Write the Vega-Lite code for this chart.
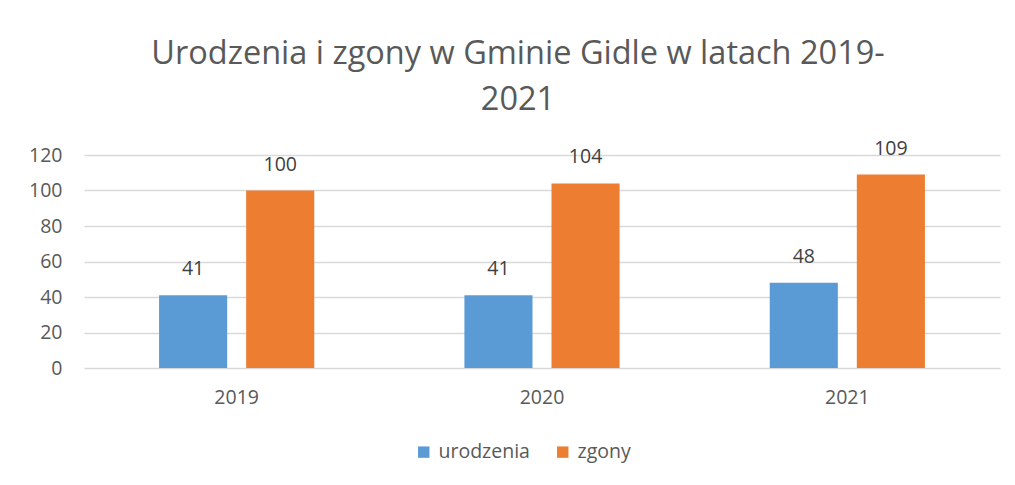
{
  "$schema": "https://vega.github.io/schema/vega-lite/v6.json",
  "autosize": "none",
  "width": 916,
  "height": 213,
  "padding": {"left": 84, "top": 155, "right": 15, "bottom": 117},
  "background": "white",
  "config": {
    "font": "Open Sans",
    "view": {"stroke": null},
    "axis": {"labelColor": "#595959", "labelFontSize": 19.5, "ticks": false, "labelFont": "Open Sans"},
    "legend": {"labelColor": "#595959", "labelFontSize": 19.5}
  },
  "title": {
    "text": ["Urodzenia i zgony w Gminie Gidle w latach 2019-", "2021"],
    "fontSize": 32.5,
    "fontWeight": "normal",
    "color": "#595959",
    "lineHeight": 46,
    "offset": 22,
    "dx": -24,
    "anchor": "middle"
  },
  "data": {
    "values": [
      {"rok": "2019", "seria": "urodzenia", "wartosc": 41},
      {"rok": "2019", "seria": "zgony", "wartosc": 100},
      {"rok": "2020", "seria": "urodzenia", "wartosc": 41},
      {"rok": "2020", "seria": "zgony", "wartosc": 104},
      {"rok": "2021", "seria": "urodzenia", "wartosc": 48},
      {"rok": "2021", "seria": "zgony", "wartosc": 109}
    ]
  },
  "encoding": {
    "x": {"field": "rok", "type": "nominal", "scale": {"paddingInner": 0, "paddingOuter": 0},
          "axis": {"title": null, "labelAngle": 0, "domain": false, "labelPadding": 20, "grid": false}},
    "xOffset": {"field": "seria", "type": "nominal", "scale": {"paddingInner": 0.218, "paddingOuter": 0.862}},
    "y": {"field": "wartosc", "type": "quantitative", "scale": {"domain": [0, 120]},
          "axis": {"title": null, "values": [0, 20, 40, 60, 80, 100, 120], "labelOverlap": false, "domain": false, "gridColor": "#D9D9D9", "gridWidth": 1.3, "labelPadding": 22}}
  },
  "layer": [
    {
      "mark": {"type": "bar"},
      "encoding": {
        "color": {"field": "seria", "type": "nominal",
                  "scale": {"domain": ["urodzenia", "zgony"], "range": ["#5B9BD5", "#ED7D31"]},
                  "legend": {"title": null, "orient": "none", "legendX": 330, "legendY": 287, "direction": "horizontal", "symbolType": "square", "symbolSize": 130, "symbolStrokeWidth": 0, "columnPadding": 23, "labelOffset": 5}}
      }
    },
    {
      "mark": {"type": "text", "dy": -16, "baseline": "bottom", "fontSize": 19.5, "color": "#404040"},
      "encoding": {"text": {"field": "wartosc", "type": "quantitative"}}
    }
  ]
}
